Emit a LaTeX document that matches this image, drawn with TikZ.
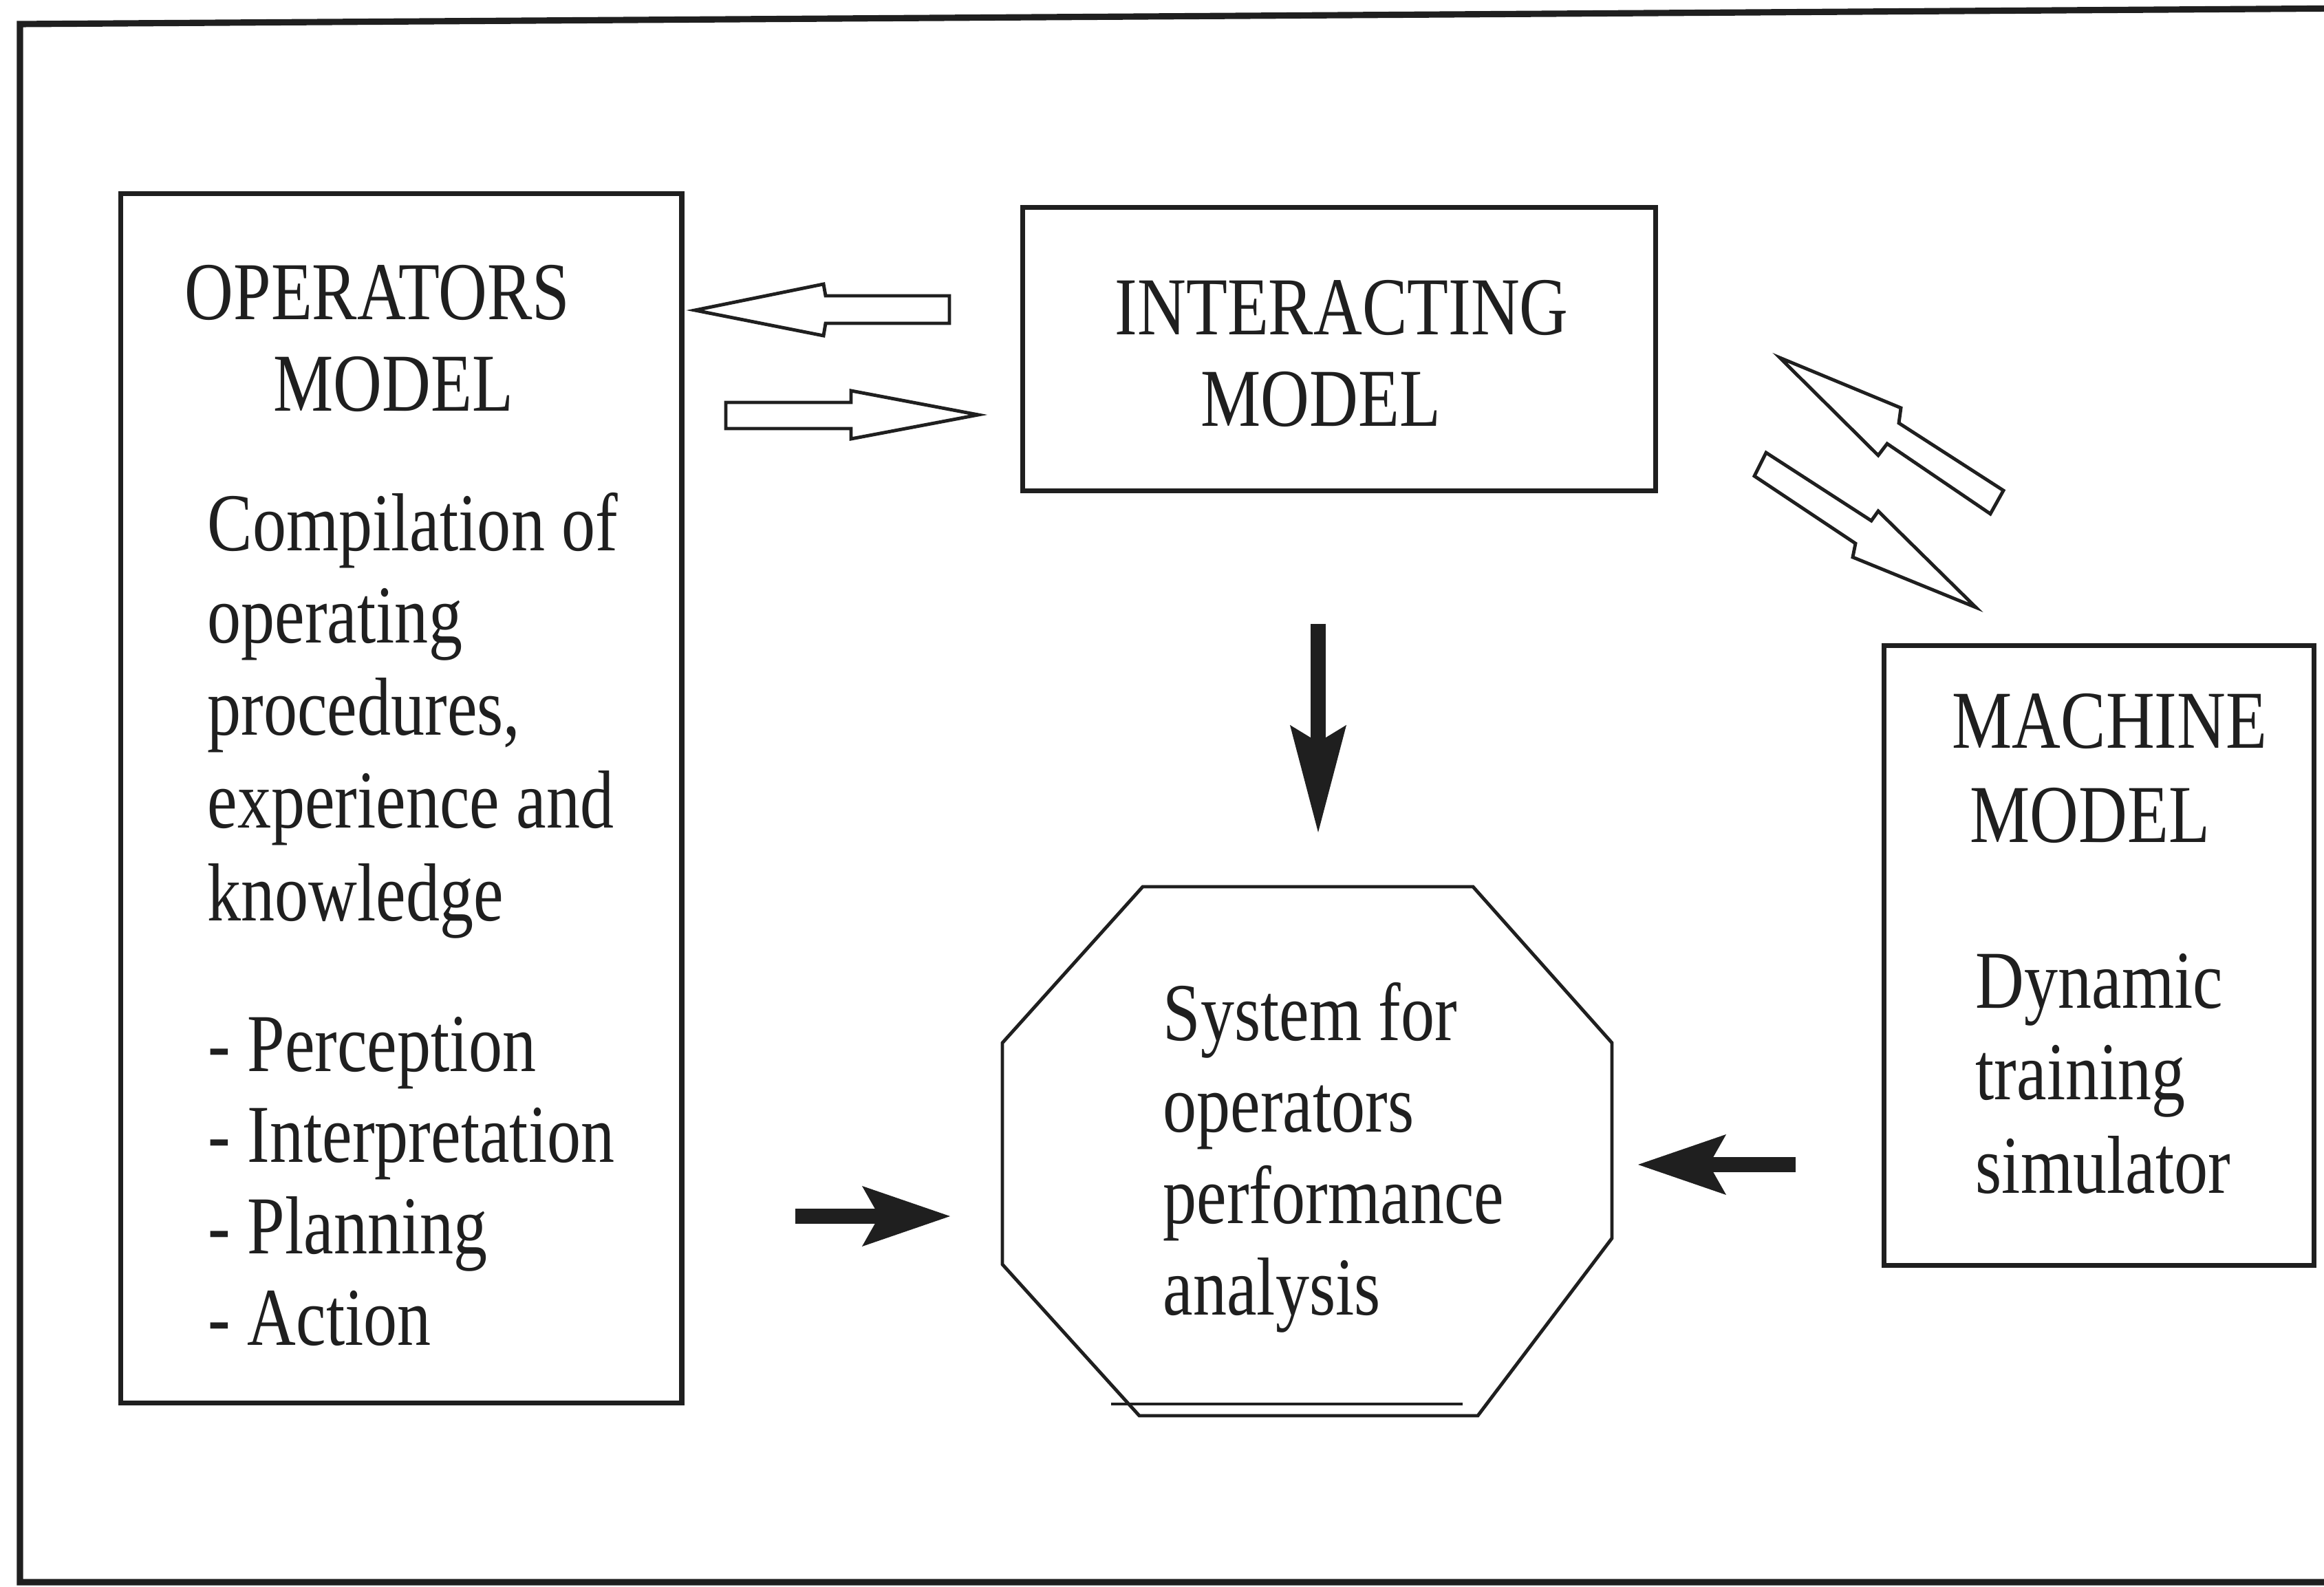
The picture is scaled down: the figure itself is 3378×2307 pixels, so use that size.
\documentclass[tikz,border=0pt]{standalone}
\usepackage{fontspec}
\setmainfont{Liberation Serif}[FakeStretch=0.82]
\usetikzlibrary{arrows.meta}
\definecolor{ink}{gray}{0.12}
\begin{document}
\begin{tikzpicture}[x=0.01cm, y=-0.01cm,
  lbl/.style={anchor=base west, inner sep=0pt, text=ink,
              font=\fontsize{34}{38}\selectfont},
  frame/.style={draw=ink, line width=2.6pt},
  box/.style={draw=ink, line width=2pt, anchor=north west, inner sep=0pt},
  octo/.style={draw=ink, line width=1.4pt},
  hollow/.style={draw=ink, fill=white, line width=1.4pt},
  solidh/.style={draw=ink, line width=6.4pt,
    -{Stealth[length=1.28cm, width=0.88cm, inset=0.25cm, line width=0pt]}},
  solidv/.style={draw=ink, line width=6.2pt,
    -{Stealth[length=1.56cm, width=0.82cm, inset=0.25cm, line width=0pt]}}
]
\useasboundingbox (0,0) rectangle (3378,2307);

% outer frame (right edge runs off the page)
\draw[frame] (3440,12) -- (29,35) -- (29,2300) -- (3440,2300);

% ---- boxes ----
\node[box, minimum width=8.15cm, minimum height=17.57cm] (opbox) at (172,278) {};
\node[box, minimum width=9.19cm, minimum height=4.12cm] (intbox) at (1483,298) {};
\node[box, minimum width=6.25cm, minimum height=9.00cm] (machbox) at (2735,935) {};

% ---- operators model text ----
\node[lbl] (opT1) at (268,465) {OPERATORS};
\node[lbl] (opT2) at (397,598) {MODEL};
\node[lbl] (opA1) at (301,801) {Compilation of};
\node[lbl] (opA2) at (301,935) {operating};
\node[lbl] (opA3) at (301,1069) {procedures,};
\node[lbl] (opA4) at (301,1203) {experience and};
\node[lbl] (opA5) at (301,1338) {knowledge};
\node[lbl] (opB1) at (302,1557) {- Perception};
\node[lbl] (opB2) at (302,1689) {- Interpretation};
\node[lbl] (opB3) at (302,1822) {- Planning};
\node[lbl] (opB4) at (302,1955) {- Action};

% ---- interacting model text ----
\node[lbl] (intT1) at (1620,487) {INTERACTING};
\node[lbl] (intT2) at (1745,620) {MODEL};

% ---- machine model text ----
\node[lbl] (maT1) at (2837,1088) {MACHINE};
\node[lbl] (maT2) at (2863,1225) {MODEL};
\node[lbl] (maA1) at (2871,1465) {Dynamic};
\node[lbl] (maA2) at (2871,1598) {training};
\node[lbl] (maA3) at (2871,1734) {simulator};

% ---- octagon: performance analysis system ----
\draw[octo] (1661,1289) -- (2141,1289) -- (2343,1516) -- (2343,1800)
  -- (2148,2058) -- (1656,2058) -- (1457,1838) -- (1457,1516) -- cycle;
\draw[octo] (1615,2041) -- (2126,2041);
\node[lbl] (sy1) at (1690,1512) {System for};
\node[lbl] (sy2) at (1690,1645) {operators};
\node[lbl] (sy3) at (1690,1778) {performance};
\node[lbl] (sy4) at (1690,1911) {analysis};

% ---- solid arrows into the analysis system ----
\coordinate (downTail) at (1916,907);
\coordinate (downTip) at (1916,1210);
\coordinate (leftTail) at (1156,1768);
\coordinate (leftTip) at (1381,1768);
\coordinate (rightTail) at (2610,1693);
\coordinate (rightTip) at (2381,1693);
\draw[solidv] (downTail) -- (downTip);
\draw[solidh] (leftTail) -- (leftTip);
\draw[solidh] (rightTail) -- (rightTip);

% ---- hollow arrows between the operators and interacting models ----
\draw[hollow] (1010,451) -- (1197,413) -- (1200,430) -- (1380,430)
  -- (1380,470) -- (1200,470) -- (1197,488) -- cycle;
\draw[hollow] (1055,585) -- (1237,585) -- (1237,568) -- (1422,603)
  -- (1237,638) -- (1237,623) -- (1055,623) -- cycle;

% ---- hollow arrows between the interacting and machine models ----
\draw[hollow] (2587,520) -- (2763,593) -- (2760,615) -- (2912,713)
  -- (2893,747) -- (2743,645) -- (2730,662) -- cycle;
\draw[hollow] (2567,658) -- (2720,757) -- (2730,743) -- (2872,883)
  -- (2693,810) -- (2697,790) -- (2550,692) -- cycle;
\end{tikzpicture}
\end{document}
